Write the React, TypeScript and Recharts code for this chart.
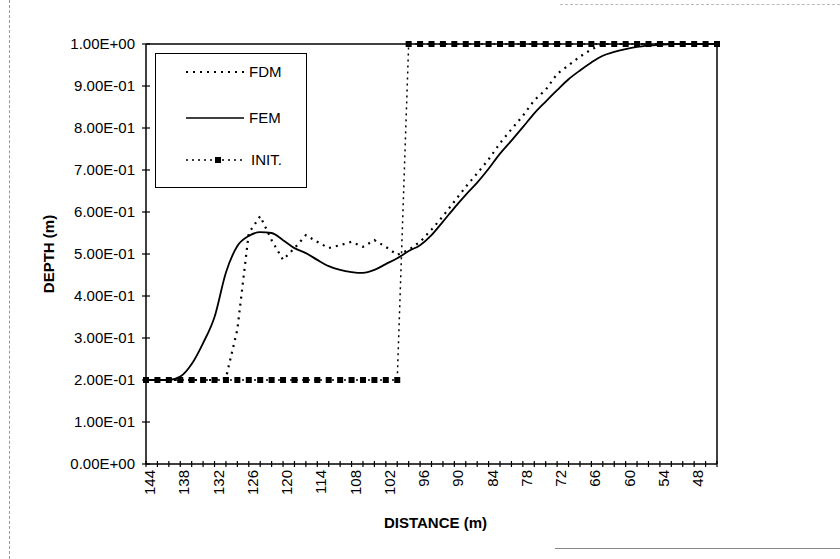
import { LineChart, Line, XAxis, YAxis, Legend, ReferenceLine, Label } from 'recharts';

const DISTANCE = [
  144, 142, 140, 138, 136, 134, 132, 130, 128, 126, 124, 122, 120, 118, 116, 114, 112,
  110, 108, 106, 104, 102, 100, 98, 96, 94, 92, 90, 88, 86, 84, 82, 80, 78,
  76, 74, 72, 70, 68, 66, 64, 62, 60, 58, 56, 54, 52, 50, 48, 46, 44,
];

const FDM = [
  0.2, 0.2, 0.2, 0.2, 0.2, 0.2, 0.2, 0.205, 0.32, 0.55, 0.59, 0.533, 0.486, 0.514, 0.545, 0.529, 0.514,
  0.521, 0.529, 0.517, 0.533, 0.517, 0.498, 0.51, 0.529, 0.558, 0.59, 0.625, 0.66, 0.692, 0.725, 0.764, 0.797, 0.829,
  0.866, 0.891, 0.929, 0.949, 0.97, 0.987, 1, 1, 1, 1, 1, 1, 1, 1, 1, 1, 1,
];

const FEM = [
  0.2, 0.2, 0.2, 0.208, 0.238, 0.288, 0.35, 0.456, 0.519, 0.543, 0.552, 0.55, 0.533, 0.514, 0.502, 0.486, 0.471,
  0.462, 0.457, 0.455, 0.462, 0.476, 0.49, 0.507, 0.521, 0.545, 0.577, 0.61, 0.641, 0.67, 0.703, 0.739, 0.77, 0.802,
  0.835, 0.863, 0.89, 0.916, 0.937, 0.956, 0.972, 0.981, 0.988, 0.993, 0.996, 0.998, 1, 1, 1, 1, 1,
];

const INIT = [
  0.2, 0.2, 0.2, 0.2, 0.2, 0.2, 0.2, 0.2, 0.2, 0.2, 0.2, 0.2, 0.2, 0.2, 0.2, 0.2, 0.2,
  0.2, 0.2, 0.2, 0.2, 0.2, 0.2, 1, 1, 1, 1, 1, 1, 1, 1, 1, 1, 1,
  1, 1, 1, 1, 1, 1, 1, 1, 1, 1, 1, 1, 1, 1, 1, 1, 1,
];

const Y_TICKS = [0, 0.1, 0.2, 0.3, 0.4, 0.5, 0.6, 0.7, 0.8, 0.9, 1];
const LABEL_EVERY = 3;

const FONT = '"Liberation Sans", Arial, sans-serif';

const data = DISTANCE.map((d, i) => ({ distance: d, fdm: FDM[i], fem: FEM[i], init: INIT[i] }));

// Excel style 1.00E+00 / 9.00E-01
function formatSci(v: number): string {
  if (v === 0) return '0.00E+00';
  const exp = Math.floor(Math.log10(v) + 1e-9);
  const mant = v / Math.pow(10, exp);
  const sign = exp < 0 ? '-' : '+';
  return `${mant.toFixed(2)}E${sign}${String(Math.abs(exp)).padStart(2, '0')}`;
}

function XTick(props: any) {
  const { x, y, index, payload } = props;
  return (
    <g>
      <line x1={x} x2={x} y1={y - 3} y2={y + 3} stroke="#000" strokeWidth={1.2} />
      {index % LABEL_EVERY === 0 && (
        <text
          x={x + 9}
          y={y + 6}
          transform={`rotate(-90 ${x + 9} ${y + 6})`}
          textAnchor="end"
          fontSize={15}
          fontFamily={FONT}
          fill="#000"
        >
          {payload.value}
        </text>
      )}
    </g>
  );
}

function YTick(props: any) {
  const { x, y, payload } = props;
  return (
    <g>
      <line x1={x - 4} x2={x + 4} y1={y} y2={y} stroke="#000" strokeWidth={1.2} />
      <text x={x - 11} y={y + 5} textAnchor="end" fontSize={15} fontFamily={FONT} fill="#000">
        {formatSci(payload.value)}
      </text>
    </g>
  );
}

function SquareDot(props: any) {
  const { cx, cy, index } = props;
  if (cx == null || cy == null) return <g key={`d${index}`} />;
  return <rect key={`d${index}`} x={cx - 3} y={cy - 3} width={6} height={6} fill="#000" />;
}

function LegendBox() {
  return (
    <div style={{ width: 152, height: 135, border: '1.5px solid #000', background: '#fff', boxSizing: 'border-box' }}>
      <svg width={150} height={133} style={{ display: 'block' }}>
        <line x1={30} x2={88} y1={18} y2={18} stroke="#000" strokeWidth={2} strokeDasharray="2 5" />
        <text x={93} y={23} fontSize={15} fontFamily={FONT} fill="#000">FDM</text>
        <line x1={30} x2={88} y1={64} y2={64} stroke="#000" strokeWidth={1.5} />
        <text x={93} y={69} fontSize={15} fontFamily={FONT} fill="#000">FEM</text>
        <line x1={30} x2={88} y1={106} y2={106} stroke="#000" strokeWidth={1.5} strokeDasharray="2 4" />
        <rect x={59} y={103} width={6} height={6} fill="#000" />
        <text x={95} y={111} fontSize={15} fontFamily={FONT} fill="#000">INIT.</text>
      </svg>
    </div>
  );
}

export default function App() {
  return (
    <div style={{ position: 'absolute', left: 0, top: 0, width: 840, height: 559, background: '#fff' }}>
      <div style={{ position: 'absolute', left: 9, top: 0, height: 559, borderLeft: '1px dashed #999' }} />
      <div style={{ position: 'absolute', left: 560, top: 4, width: 280, borderTop: '1px dashed #bbb' }} />
      <div style={{ position: 'absolute', left: 555, top: 548, width: 285, borderTop: '1px solid #888' }} />
      <LineChart
        width={840}
        height={559}
        data={data}
        margin={{ top: 44, right: 123, bottom: 25, left: 46 }}
        style={{ fontFamily: FONT }}
      >
        <XAxis
          dataKey="distance"
          interval={0}
          tick={<XTick />}
          tickLine={false}
          tickSize={0}
          tickMargin={0}
          height={70}
          axisLine={{ stroke: '#000', strokeWidth: 1.5 }}
        >
          <Label
            content={(p: any) => {
              const vb = p.viewBox || { x: 146, y: 464, width: 571, height: 70 };
              return (
                <text
                  x={vb.x + vb.width / 2 + 4}
                  y={vb.y + 64}
                  textAnchor="middle"
                  fontSize={15}
                  fontWeight="bold"
                  fontFamily={FONT}
                  fill="#000"
                >
                  DISTANCE (m)
                </text>
              );
            }}
          />
        </XAxis>
        <YAxis
          domain={[0, 1]}
          ticks={Y_TICKS}
          tick={<YTick />}
          tickLine={false}
          tickSize={0}
          tickMargin={0}
          width={100}
          axisLine={{ stroke: '#000', strokeWidth: 1.5 }}
        >
          <Label
            content={(p: any) => {
              const vb = p.viewBox || { x: 46, y: 44, width: 100, height: 420 };
              const cx = vb.x + 8;
              const cy = vb.y + vb.height / 2;
              return (
                <text
                  x={cx}
                  y={cy}
                  transform={`rotate(-90 ${cx} ${cy})`}
                  textAnchor="middle"
                  fontSize={15}
                  fontWeight="bold"
                  fontFamily={FONT}
                  fill="#000"
                >
                  DEPTH (m)
                </text>
              );
            }}
          />
        </YAxis>
        <ReferenceLine y={1} stroke="#000" strokeWidth={1.5} />
        <ReferenceLine x={44} stroke="#000" strokeWidth={1.5} />
        <Legend
          layout="vertical"
          align="center"
          verticalAlign="middle"
          content={() => <LegendBox />}
          wrapperStyle={{ position: 'absolute', left: 155, top: 53, width: 152, height: 135 }}
        />
        <Line
          type="linear"
          dataKey="init"
          stroke="#000"
          strokeWidth={1.5}
          strokeDasharray="2 4"
          dot={SquareDot}
          isAnimationActive={false}
          legendType="none"
        />
        <Line
          type="monotone"
          dataKey="fem"
          stroke="#000"
          strokeWidth={1.8}
          dot={false}
          isAnimationActive={false}
        />
        <Line
          type="linear"
          dataKey="fdm"
          stroke="#000"
          strokeWidth={2.2}
          strokeDasharray="2 5"
          dot={false}
          isAnimationActive={false}
        />
      </LineChart>
    </div>
  );
}
